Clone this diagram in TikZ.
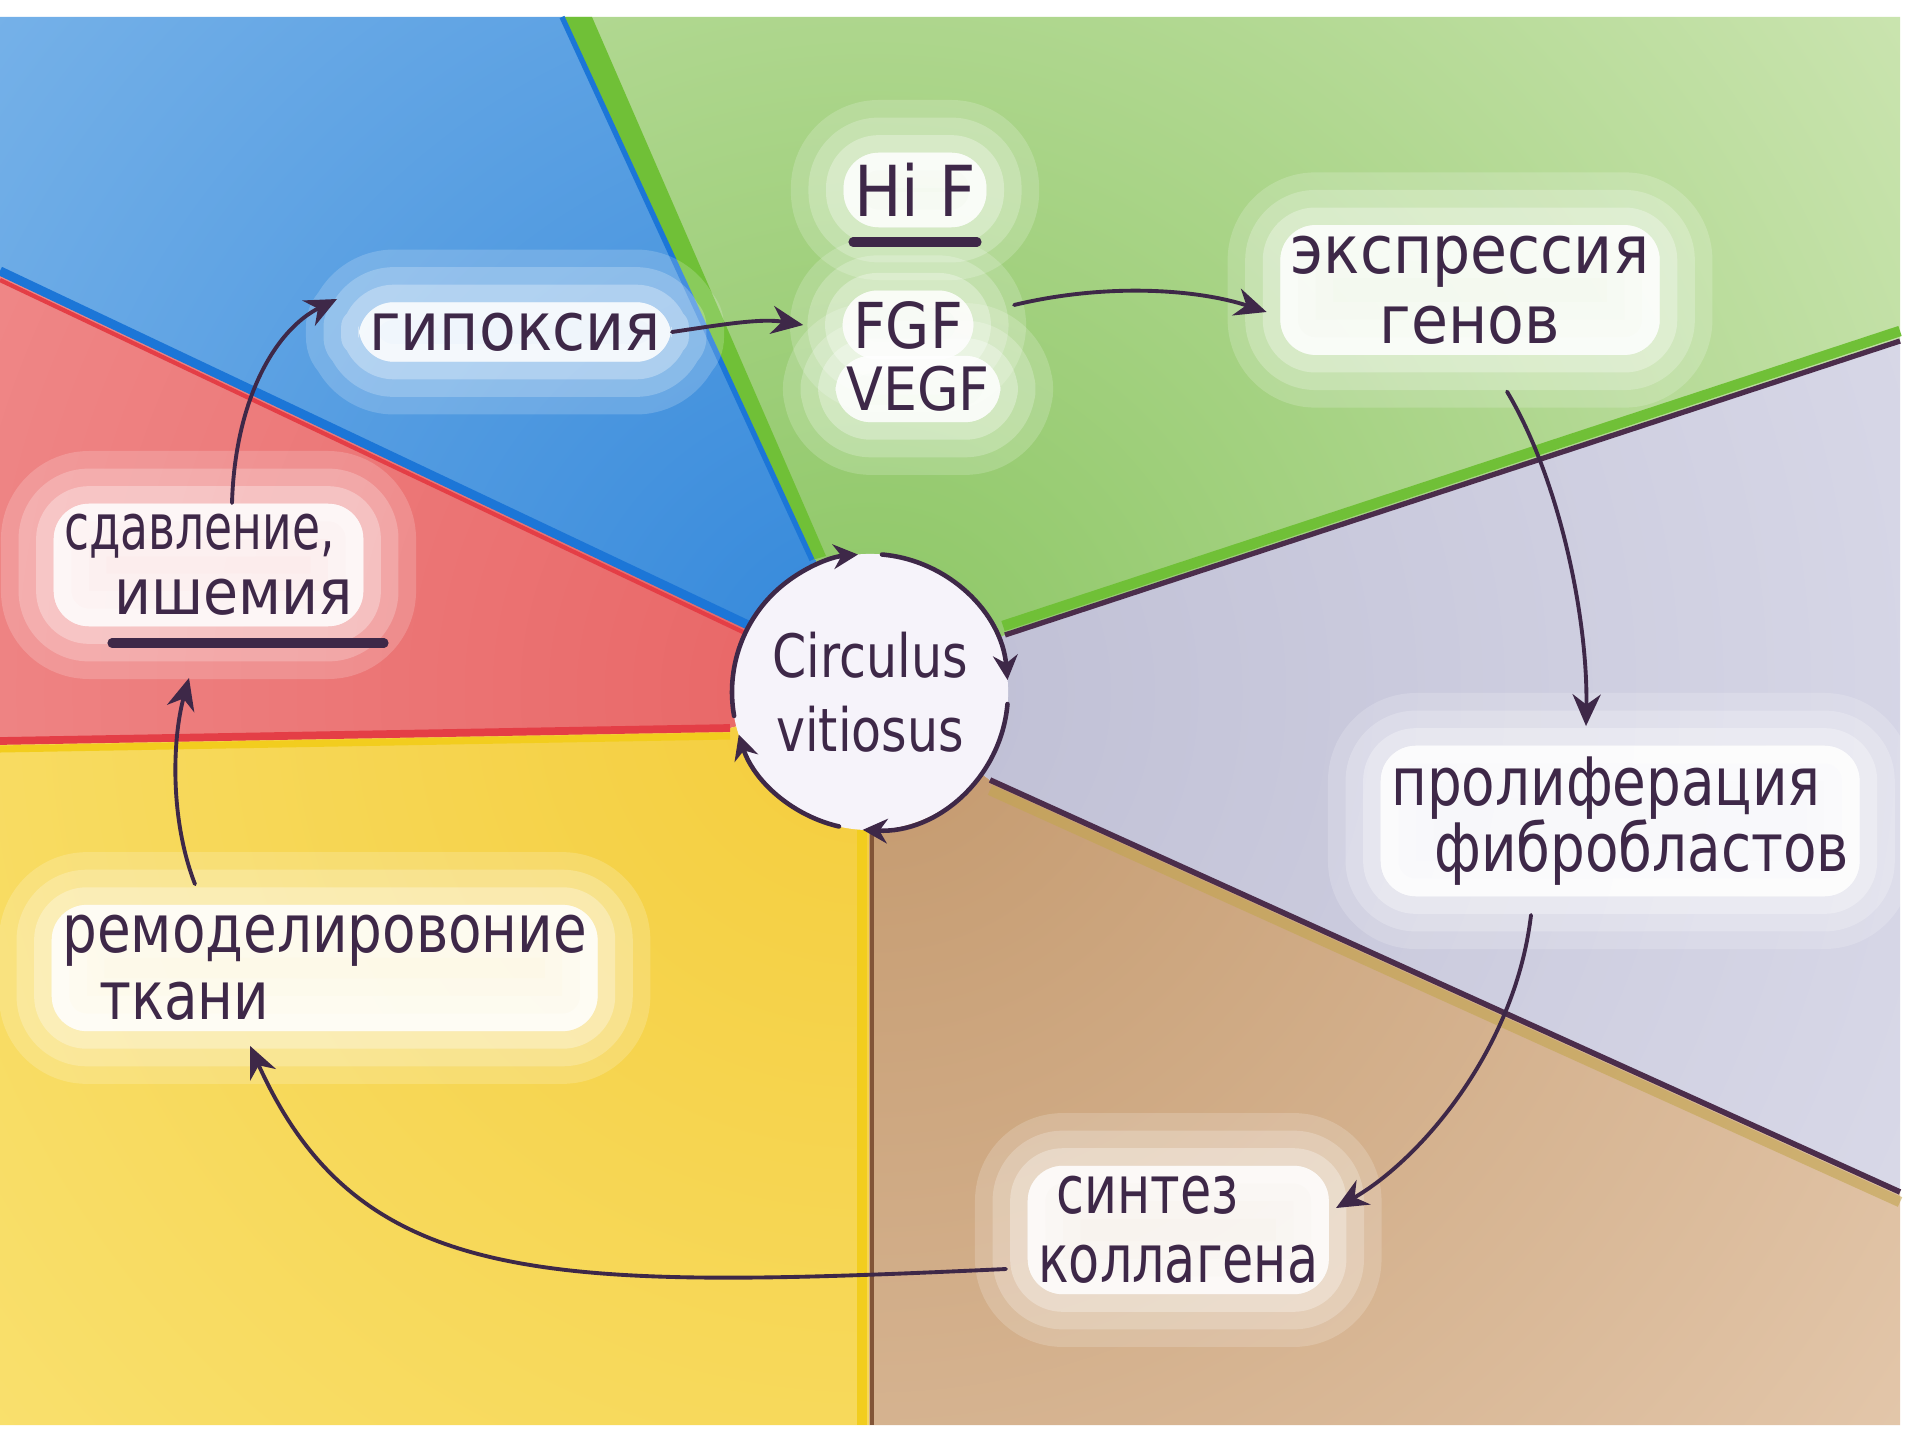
\documentclass[tikz,border=0pt]{standalone}
\usepackage{fontspec}
\setmainfont{DejaVu Sans}
\newfontfamily\fA[FakeStretch=0.90]{DejaVu Sans}
\newfontfamily\fB[FakeStretch=0.82]{DejaVu Sans}
\newfontfamily\fC[FakeStretch=0.76]{DejaVu Sans}
\newfontfamily\fD[FakeStretch=0.72]{DejaVu Sans}
\usetikzlibrary{arrows.meta}
\pgfdeclarelayer{back}
\pgfdeclarelayer{glowlayer}
\pgfsetlayers{back,glowlayer,main}
\definecolor{ink}{RGB}{62,40,72}
\definecolor{circfill}{RGB}{246,243,250}
\definecolor{blueIn}{RGB}{50,135,218}
\definecolor{blueOut}{RGB}{135,188,236}
\definecolor{greenIn}{RGB}{140,198,100}
\definecolor{greenOut}{RGB}{210,232,185}
\definecolor{redIn}{RGB}{232,100,100}
\definecolor{redOut}{RGB}{242,150,150}
\definecolor{yelIn}{RGB}{244,205,60}
\definecolor{yelOut}{RGB}{250,228,120}
\definecolor{brnIn}{RGB}{195,152,108}
\definecolor{brnOut}{RGB}{230,203,176}
\definecolor{gryIn}{RGB}{190,190,212}
\definecolor{gryOut}{RGB}{222,222,236}
\definecolor{lnGreen}{RGB}{112,192,55}
\definecolor{lnBlue}{RGB}{28,118,215}
\definecolor{lnRed}{RGB}{228,62,70}
\definecolor{lnYel}{RGB}{242,205,30}
\definecolor{lnDark}{RGB}{75,45,75}
\definecolor{lnBrown}{RGB}{130,85,55}
\definecolor{lnOlive}{RGB}{195,165,80}
\newcommand\sectorfill[3]{\begin{scope}\clip #1;\shade[inner color=#2,outer color=#3] (C) circle (1400);\end{scope}}
% a label: glow copy on the glow layer, text on the main layer
\newcommand\lab[4][]{%
  \begin{pgfonlayer}{glowlayer}\node[lblglow,#1] (g#2) at #3 {#4};\end{pgfonlayer}%
  \node[lbltext,#1] (#2) at #3 {#4};}
\tikzset{
  lblbase/.style={font=\fontsize{19}{20}\fA, inner sep=3pt, rounded corners=10pt},
  lblglow/.style={lblbase, text opacity=0, fill=white, fill opacity=0.7, line join=round,
    preaction={draw=white, fill=white, line width=30pt, draw opacity=0.18, fill opacity=0.18, line join=round},
    preaction={draw=white, fill=white, line width=20pt, draw opacity=0.22, fill opacity=0.22, line join=round},
    preaction={draw=white, fill=white, line width=10pt, draw opacity=0.3, fill opacity=0.3, line join=round}},
  lbltext/.style={lblbase, text=ink},
  arr/.style={draw=ink, line width=1.1pt, line cap=round, -{Stealth[length=9pt,width=8pt]}},
  circarr/.style={draw=ink, line width=1.3pt, line cap=round, -{Stealth[length=7pt,width=7pt]}},
  uline/.style={draw=ink, line width=2.6pt, line cap=round}
}
\begin{document}
\begin{tikzpicture}[x=0.01cm,y=-0.01cm]
\useasboundingbox (0,0) rectangle (1913,1440);
\coordinate (C) at (870,692);
\coordinate (Pbg) at (815,558);
\coordinate (Pbr) at (748,625);
\coordinate (Pry) at (730,728);
\coordinate (Pyb) at (869,825);
\coordinate (Pbgr) at (990,780);
\coordinate (Pgg) at (1005,635);
\coordinate (Obg) at (565,17);
\coordinate (Obr) at (0,271);
\coordinate (Ory) at (0,741);
\coordinate (Oyb) at (869,1425);
\coordinate (Obgr) at (1900,1192);
\coordinate (Ogg) at (1900,340);
\begin{pgfonlayer}{back}
\fill[white] (0,0) rectangle (1913,1440);
% sectors
\sectorfill{(C) -- (Pbg) -- (Obg) -- (0,17) -- (Obr) -- (Pbr) -- cycle}{blueIn}{blueOut}
\sectorfill{(C) -- (Pbr) -- (Obr) -- (Ory) -- (Pry) -- cycle}{redIn}{redOut}
\sectorfill{(C) -- (Pry) -- (Ory) -- (0,1425) -- (Oyb) -- (Pyb) -- cycle}{yelIn}{yelOut}
\sectorfill{(C) -- (Pyb) -- (Oyb) -- (1900,1425) -- (Obgr) -- (Pbgr) -- cycle}{brnIn}{brnOut}
\sectorfill{(C) -- (Pbgr) -- (Obgr) -- (Ogg) -- (Pgg) -- cycle}{gryIn}{gryOut}
\sectorfill{(C) -- (Pgg) -- (Ogg) -- (1900,17) -- (Obg) -- (Pbg) -- cycle}{greenIn}{greenOut}
% boundary lines
\fill[lnGreen] (562,17) -- (592,17) -- (826,556) -- (812,560) -- cycle;
\draw[lnBlue, line width=1.5pt] (562,17) -- (812,560);
\draw[lnRed, line width=1.2pt] (0,280) -- (745,633);
\draw[lnBlue, line width=2.6pt] (0,271) -- (748,625);
\draw[lnYel, line width=2pt] (0,749) -- (730,736);
\draw[lnRed, line width=2.2pt] (0,741) -- (730,728);
\draw[lnYel, line width=2.8pt] (862,825) -- (862,1425);
\draw[lnBrown, line width=1pt] (872,825) -- (872,1425);
\draw[lnOlive, line width=3pt, opacity=0.6] (990,790) -- (1900,1202);
\draw[lnDark, line width=1.6pt] (990,780) -- (1900,1192);
\draw[lnGreen, line width=3pt] (1003,626) -- (1900,331);
\draw[lnDark, line width=1.5pt] (1005,635) -- (1900,341);
\end{pgfonlayer}
% central circle
\node[circle, fill=circfill, minimum size=2.76cm, inner sep=0pt, align=center,
      font=\fontsize{17}{21}\fB, text=ink] (circ) at (C) {Circulus\\vitiosus};
\draw[circarr] ([shift={(170:138)}]circ.center) arc[start angle=170, end angle=265, radius=138];
\draw[circarr] ([shift={(275:138)}]circ.center) arc[start angle=275, end angle=355, radius=138];
\draw[circarr] ([shift={(5:138)}]circ.center) arc[start angle=5, end angle=93, radius=138];
\draw[circarr] ([shift={(103:138)}]circ.center) arc[start angle=103, end angle=162, radius=138];
% labels
\lab{hyp}{(515,332)}{гипоксия}
\lab[font=\fontsize{20}{22}\fA]{hif}{(915,190)}{Hi F}
\lab[font=\fontsize{18}{20}\fA]{fgf}{(908,325)}{FGF}
\lab[font=\fontsize{17}{20}\fA]{vegf}{(918,389)}{VEGF}
\lab[align=center, font=\fontsize{19}{20}\fA]{expr}{(1470,290)}{экспрессия\\генов}
\lab[align=left, anchor=west, font=\fontsize{19}{19}\fB]{prol}{(1380,821)}{пролиферация\\\hspace*{0.43cm}фибробластов}
\lab[align=left, anchor=west, font=\fontsize{19}{19.6}\fC]{synth}{(1027,1230)}{\hspace*{0.18cm}синтез\\коллагена}
\lab[align=left, anchor=west, font=\fontsize{19}{19}\fB]{remod}{(51,968)}{ремоделировоние\\\hspace*{0.37cm}ткани}
\lab[align=left, anchor=west, font=\fontsize{18}{18.5}\fD]{comp}{(53,565)}{сдавление,\\\hspace*{0.5cm}{\fA ишемия}}
% underlines
\draw[uline] (853,242) -- (977,242);
\draw[uline] (112,643) -- (384,643);
% connectors
\draw[arr] (hyp.east) .. controls (720,325) and (760,318) .. ([xshift=-11pt]fgf.west);
\draw[arr] ([shift={(40,-20)}]fgf.east) .. controls (1110,282) and (1200,290) .. ([shift={(-13,22)}]expr.west);
\draw[arr] ([shift={(37,36)}]expr.south) .. controls (1560,480) and (1588,620) .. ([shift={(206,-19)}]prol.north west);
\draw[arr] ([shift={(151,18)}]prol.south west) .. controls (1515,1050) and (1420,1160) .. ([shift={(309,-22)}]synth.west);
\draw[arr] ([shift={(-21,39)}]synth.west) .. controls (550,1290) and (360,1290) .. ([shift={(199,14)}]remod.south west);
\draw[arr] ([shift={(144,-20)}]remod.north west) .. controls (170,820) and (172,740) .. ([shift={(136,51)}]comp.south west);
\draw[arr] ([shift={(179,0)}]comp.north west) .. controls (235,400) and (275,330) .. ([shift={(-21,-33)}]hyp.west);
\end{tikzpicture}
\end{document}
